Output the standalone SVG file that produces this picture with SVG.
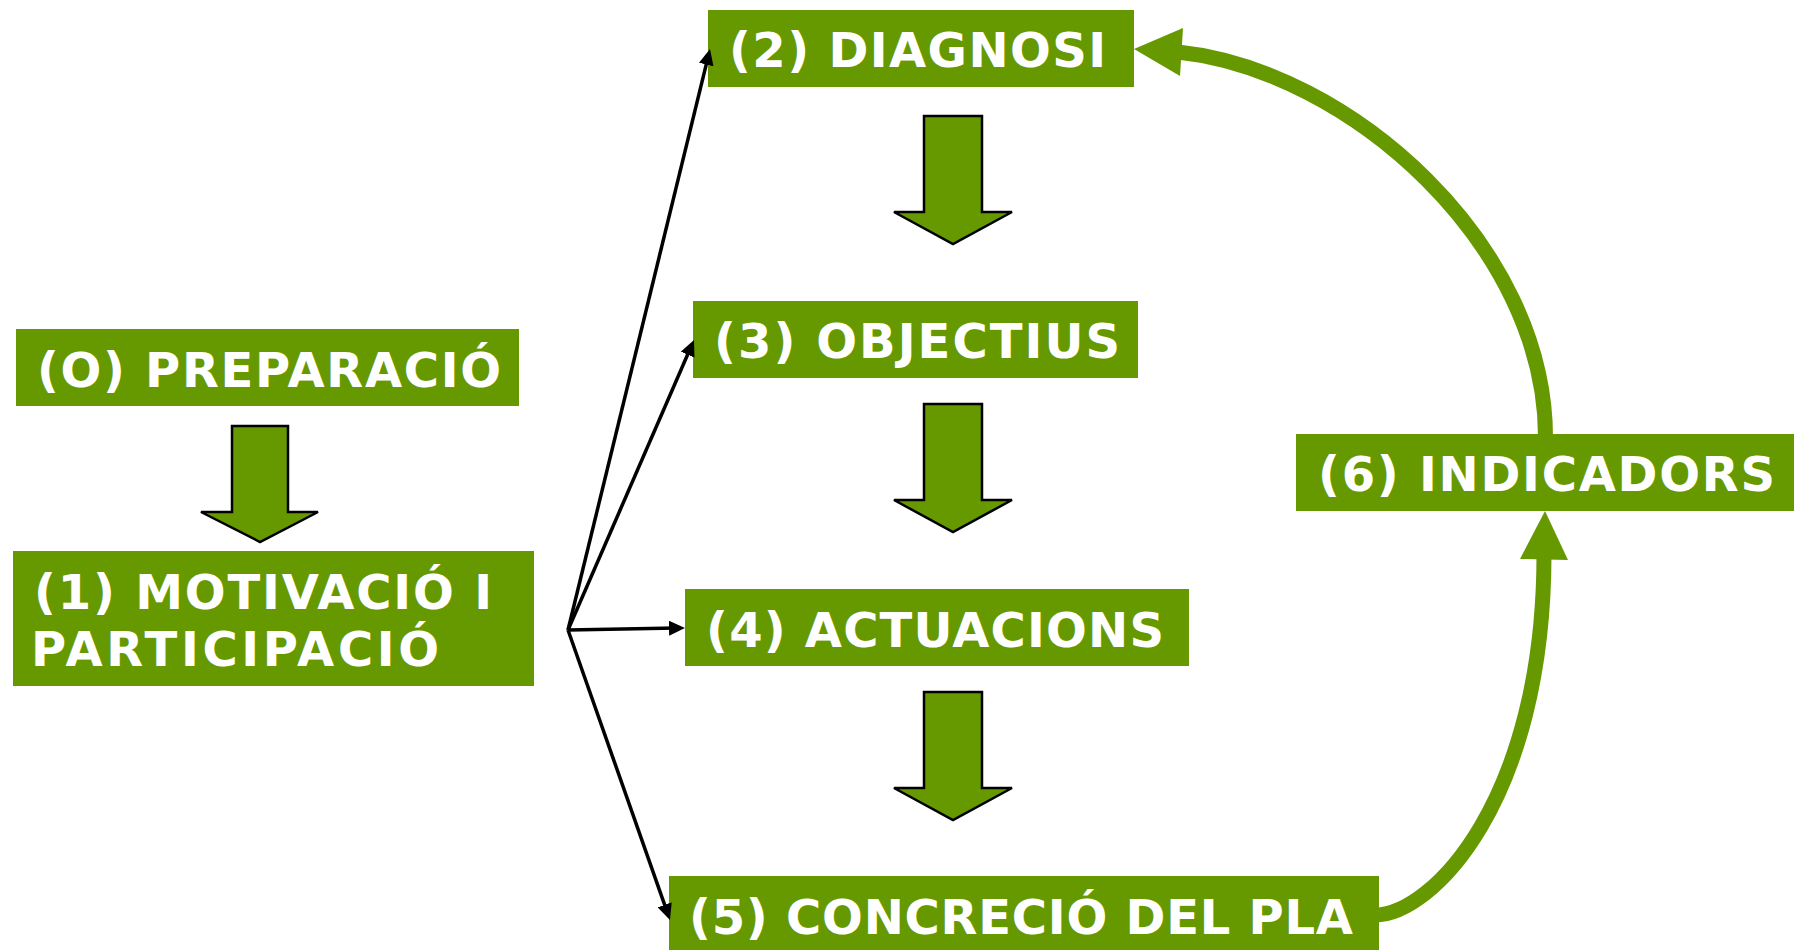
<svg xmlns="http://www.w3.org/2000/svg" width="1794" height="950" viewBox="0 0 1794 950">
  <style>
    .box { fill: #669900; }
    .lbl { font-family: "DejaVu Sans", "Verdana", sans-serif; font-weight: bold; font-size: 48px; fill: #ffffff; }
    .blk { fill: #669900; stroke: #000000; stroke-width: 2.5; stroke-linejoin: miter; }
    .thin { fill: none; stroke: #000000; stroke-width: 3.5; marker-end: url(#ah); }
    .loop { fill: none; stroke: #669900; stroke-width: 15; }
    .loophead { fill: #669900; }
  </style>
  <defs>
    <marker id="ah" markerUnits="userSpaceOnUse" markerWidth="16" markerHeight="15" viewBox="0 0 16 15" refX="8" refY="7.5" orient="auto">
      <path d="M0,0 L16,7.5 L0,15 Z" fill="#000000"/>
    </marker>
  </defs>
  <rect width="1794" height="950" fill="#ffffff"/>

  <g id="node0">
    <rect class="box" x="16" y="329" width="503" height="77"/>
    <text class="lbl" x="37" y="387" textLength="464" lengthAdjust="spacing">(O) PREPARACIÓ</text>
  </g>
  <g id="node1">
    <rect class="box" x="13" y="551" width="521" height="135"/>
    <text class="lbl" x="34" y="609" textLength="458" lengthAdjust="spacing">(1) MOTIVACIÓ I</text>
    <text class="lbl" x="31" y="666" textLength="408" lengthAdjust="spacing">PARTICIPACIÓ</text>
  </g>
  <g id="node2">
    <rect class="box" x="708" y="10" width="426" height="77"/>
    <text class="lbl" x="729" y="67" textLength="377" lengthAdjust="spacing">(2) DIAGNOSI</text>
  </g>
  <g id="node3">
    <rect class="box" x="693" y="301" width="445" height="77"/>
    <text class="lbl" x="714" y="358" textLength="406" lengthAdjust="spacing">(3) OBJECTIUS</text>
  </g>
  <g id="node4">
    <rect class="box" x="685" y="589" width="504" height="77"/>
    <text class="lbl" x="706" y="647" textLength="458" lengthAdjust="spacing">(4) ACTUACIONS</text>
  </g>
  <g id="node5">
    <rect class="box" x="669" y="876" width="710" height="77"/>
    <text class="lbl" x="689" y="934" textLength="664" lengthAdjust="spacing">(5) CONCRECIÓ DEL PLA</text>
  </g>
  <g id="node6">
    <rect class="box" x="1296" y="434" width="498" height="77"/>
    <text class="lbl" x="1318" y="491" textLength="457" lengthAdjust="spacing">(6) INDICADORS</text>
  </g>

  <g id="flow-arrows">
    <polygon class="blk" points="232,426 288,426 288,512 318,512 260,542 201,512 232,512"/>
    <polygon class="blk" points="924,116 982,116 982,212 1012,212 953,244 894,212 924,212"/>
    <polygon class="blk" points="924,404 982,404 982,500 1012,500 953,532 894,500 924,500"/>
    <polygon class="blk" points="924,692 982,692 982,788 1012,788 953,820 894,788 924,788"/>
  </g>

  <g id="connectors">
    <line class="thin" x1="568" y1="630" x2="708.1" y2="56.8"/>
    <line class="thin" x1="568" y1="630" x2="690.8" y2="347.3"/>
    <line class="thin" x1="568" y1="630" x2="677" y2="628.1"/>
    <line class="thin" x1="568" y1="630" x2="667.3" y2="912.4"/>

    <path class="loop" d="M1545.5,438 C1546,245 1350,70 1178,52"/>
    <polygon class="loophead" points="1134,49 1183,28 1180,76"/>

    <path class="loop" d="M1375,915 C1432,915 1544,800 1544,554"/>
    <polygon class="loophead" points="1545,511 1520,559 1568,560"/>
  </g>
</svg>
